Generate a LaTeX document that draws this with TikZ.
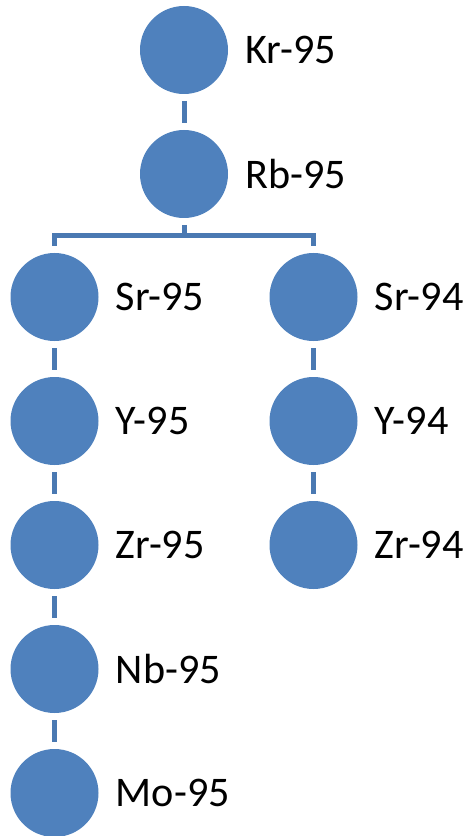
\documentclass[tikz,border=0pt]{standalone}
\usepackage{fontspec}
\setmainfont{Carlito}
\usetikzlibrary{positioning}
\definecolor{nuclide}{HTML}{4F81BD}
\definecolor{decay}{HTML}{4A79B2}

\begin{document}
\begin{tikzpicture}[
        node distance=0.44cm,
        nuc/.style={
            circle,
            fill=nuclide,
            minimum size=1.76cm,
            inner sep=0pt,
            outer sep=0.14cm
        },
        lbl/.style={
            anchor=west,
            inner sep=0pt,
            font=\fontsize{24}{28}\selectfont
        },
        link/.style={
            draw=decay,
            line width=0.1cm
        }
    ]
    \useasboundingbox (0,0) rectangle (9.32,-16.72);

    % mass 95 chain
    \node[nuc] (kr) at (3.68,-1.0) {};
    \node[nuc] (rb) [below=of kr] {};
    \node[nuc] (sr95) at (1.09,-5.94) {};
    \node[nuc] (y95) [below=of sr95] {};
    \node[nuc] (zr95) [below=of y95] {};
    \node[nuc] (nb95) [below=of zr95] {};
    \node[nuc] (mo95) [below=of nb95] {};

    % mass 94 branch
    \node[nuc] (sr94) at (6.27,-5.94) {};
    \node[nuc] (y94) [below=of sr94] {};
    \node[nuc] (zr94) [below=of y94] {};

    % labels
    \node[lbl, right=0.2cm of kr] {Kr-95};
    \node[lbl, right=0.2cm of rb] {Rb-95};
    \node[lbl, right=0.2cm of sr95] {Sr-95};
    \node[lbl, right=0.2cm of y95] {Y-95};
    \node[lbl, right=0.2cm of zr95] {Zr-95};
    \node[lbl, right=0.2cm of nb95] {Nb-95};
    \node[lbl, right=0.2cm of mo95] {Mo-95};
    \node[lbl, right=0.2cm of sr94] {Sr-94};
    \node[lbl, right=0.2cm of y94] {Y-94};
    \node[lbl, right=0.2cm of zr94] {Zr-94};

    % connectors
    \draw[link] (kr) -- (rb);
    \draw[link] (rb.south) -- ++(0,-0.22) coordinate (fork);
    \draw[link] (fork) -| (sr95);
    \draw[link] (fork) -| (sr94);
    \draw[link] (sr95) -- (y95);
    \draw[link] (y95) -- (zr95);
    \draw[link] (zr95) -- (nb95);
    \draw[link] (nb95) -- (mo95);
    \draw[link] (sr94) -- (y94);
    \draw[link] (y94) -- (zr94);

\end{tikzpicture}
\end{document}
